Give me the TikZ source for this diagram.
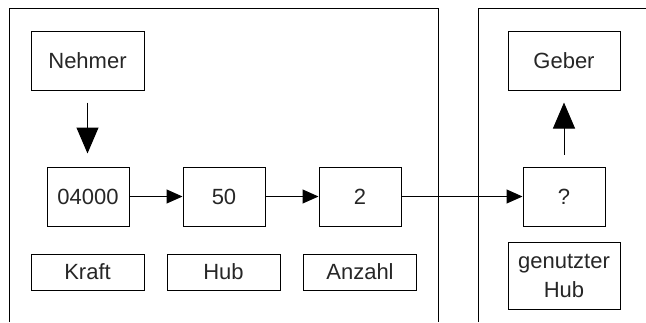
\documentclass[tikz,border=0pt]{standalone}
\usepackage{fontspec}
\setmainfont{Liberation Sans}
\usetikzlibrary{arrows.meta}
\begin{document}
\begin{tikzpicture}[x=1pt,y=-1pt,
  box/.style={draw,line width=1pt,inner sep=0pt,align=center,
    font=\fontsize{22}{29}\selectfont,text=black!85},
  valbox/.style={box,minimum width=82pt,minimum height=59pt},
  rolebox/.style={box,minimum width=113pt,minimum height=59pt},
  labelbox/.style={box,minimum width=113pt,minimum height=36pt},
  flow/.style={line width=1pt,-{Triangle[length=16pt,width=14pt]}},
  bigflow/.style={line width=1pt,-{Triangle[length=26pt,width=22pt]}},
  frame/.style={line width=1pt}]
\useasboundingbox (0,0) rectangle (646,322);

% open frames of the two parties
\draw[frame] (9,322) -- (9,8) -- (438,8) -- (438,322);
\draw[frame] (478,322) -- (478,8) -- (646,8);

% left party
\node[rolebox] (neh) at (87.5,60.5) {Nehmer};
\node[valbox] (kv) at (88,196.5) {04000};
\node[valbox] (hv) at (224,196.5) {50};
\node[valbox] (av) at (360,196.5) {2};
\node[labelbox] (kl) at (87.5,272) {Kraft};
\node[labelbox] (hl) at (223.5,272) {Hub};
\node[labelbox] (al) at (360,272) {Anzahl};

% right party
\node[rolebox,minimum width=112pt] (geb) at (564,60.5) {Geber};
\node[valbox] (qv) at (564,196.5) {?};
\node[box,minimum width=112pt,minimum height=67pt] (gl) at (564,275.5) {genutzter\\Hub};

% connectors
\draw[bigflow,shorten <=12pt,shorten >=13pt] (neh.south) -- (neh.south |- kv.north);
\draw[flow] (kv) -- (hv);
\draw[flow] (hv) -- (av);
\draw[flow] (av) -- (qv);
\draw[bigflow,shorten <=12pt,shorten >=12pt] (qv.north) -- (geb.south);
\end{tikzpicture}
\end{document}
